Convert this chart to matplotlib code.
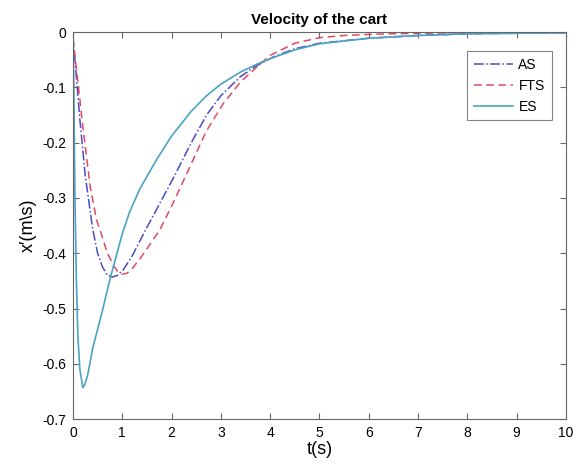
import matplotlib
matplotlib.use("Agg")
import matplotlib.pyplot as plt

# values
t_as = [0, 0.05, 0.14, 0.25, 0.4, 0.5, 0.6, 0.7, 0.8, 0.9, 1.02, 1.2, 1.46, 1.76, 2.03, 2.4,
        2.71, 3.0, 3.39, 3.7, 4.06, 4.5, 5, 6, 7, 8, 9, 10]
v_as = [-0.01, -0.06, -0.158, -0.26, -0.356, -0.4, -0.425, -0.44, -0.443, -0.44, -0.43, -0.405,
        -0.36, -0.31, -0.265, -0.2, -0.15, -0.115, -0.081, -0.062, -0.045, -0.03, -0.02,
        -0.011, -0.006, -0.003, -0.002, -0.001]

t_fts = [0, 0.05, 0.2, 0.35, 0.48, 0.55, 0.7, 0.81, 0.9, 1.0, 1.1, 1.2, 1.4, 1.76, 2.0, 2.37,
         2.7, 3.05, 3.4, 3.73, 4.0, 4.5, 5, 5.5, 6, 7, 8, 10]
v_fts = [-0.01, -0.05, -0.17, -0.28, -0.34, -0.358, -0.4, -0.42, -0.432, -0.438, -0.436, -0.428,
         -0.405, -0.358, -0.315, -0.244, -0.18, -0.129, -0.09, -0.063, -0.042, -0.02, -0.01,
         -0.006, -0.004, -0.002, -0.001, -0.0005]

t_es = [0, 0.02, 0.04, 0.07, 0.1, 0.14, 0.2, 0.24, 0.3, 0.4, 0.6, 0.75, 1.0, 1.15, 1.36, 1.7,
        2.0, 2.4, 2.71, 3.0, 3.4, 3.73, 4.0, 4.5, 5.0, 6.0, 7.0, 8.0, 9.0, 10.0]
v_es = [0, -0.12, -0.3, -0.45, -0.55, -0.61, -0.643, -0.638, -0.62, -0.572, -0.503, -0.447,
        -0.365, -0.325, -0.283, -0.23, -0.188, -0.143, -0.115, -0.094, -0.072, -0.058, -0.048,
        -0.032, -0.021, -0.011, -0.006, -0.003, -0.002, -0.001]

x_ticks = list(range(0, 11))
y_ticks = [0, -0.1, -0.2, -0.3, -0.4, -0.5, -0.6, -0.7]
y_tick_labels = ["0", "-0.1", "-0.2", "-0.3", "-0.4", "-0.5", "-0.6", "-0.7"]

plt.rcParams['font.family'] = ['Liberation Sans', 'DejaVu Sans']

fig = plt.figure(figsize=(5.79, 4.73), dpi=100)
ax = fig.add_axes([0.126, 0.114, 0.8515, 0.818])

ax.plot(t_as, v_as, linestyle='-.', color='#4a4ac8', lw=1.1, label='AS')
ax.plot(t_fts, v_fts, linestyle=(0, (5, 3)), color='#e04a60', lw=1.1, label='FTS')
ax.plot(t_es, v_es, linestyle='-', color='#4ba3c3', lw=1.2, label='ES')

ax.set_xlim(0, 10)
ax.set_ylim(-0.7, 0)
ax.set_xticks(x_ticks)
ax.set_yticks(y_ticks)
ax.set_yticklabels(y_tick_labels)
ax.tick_params(direction='in', top=True, right=True, labelsize=10, length=4,
               color='#666666', pad=5)
for s in ax.spines.values():
    s.set_color('#666666')
    s.set_linewidth(0.8)

ax.set_title('Velocity of the cart', fontsize=11, fontweight='bold', pad=6)
ax.set_xlabel('t(s)', fontsize=13, labelpad=1)
ax.set_ylabel('x\u2032(m\\s)', fontsize=13, labelpad=4)

leg = ax.legend(loc='upper right', bbox_to_anchor=(0.985, 0.97), fontsize=10,
                fancybox=False, edgecolor='#666666', handlelength=2.8,
                handletextpad=0.4, borderpad=0.5, labelspacing=0.5)
leg.get_frame().set_linewidth(0.8)

fig.savefig('out.png', dpi=100)
